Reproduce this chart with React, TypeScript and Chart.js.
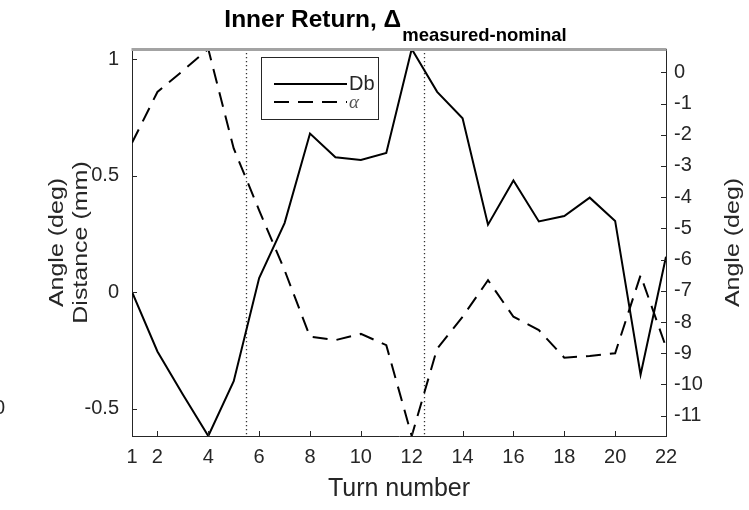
import React, { useEffect, useRef } from 'react';
import { Chart, registerables } from 'chart.js';

Chart.register(...registerables);

// ---- data ----
const turns = [1, 2, 3, 4, 5, 6, 7, 8, 9, 10, 11, 12, 13, 14, 15, 16, 17, 18, 19, 20, 21, 22];
const dbValues = [0, -0.255, -0.44, -0.618, -0.383, 0.06, 0.296, 0.68, 0.578, 0.567, 0.597, 1.043, 0.859, 0.746, 0.289, 0.479, 0.303, 0.326, 0.405, 0.305, -0.355, 0.151];
const alphaValues = [-2.26, -0.63, 0.05, 0.746, -2.44, -4.42, -6.34, -8.47, -8.58, -8.38, -8.74, -11.65, -8.85, -7.83, -6.66, -7.83, -8.26, -9.14, -9.09, -9.0, -6.5, -8.8];
const xTicks = [1, 2, 4, 6, 8, 10, 12, 14, 16, 18, 20, 22];
const leftTicks = [-0.5, 0, 0.5, 1];
const rightTicks = [-11, -10, -9, -8, -7, -6, -5, -4, -3, -2, -1, 0];
const dividers = [5.5, 12.5];
const seriesLabels = ['Db', 'α'];
const titleMain = 'Inner Return, Δ';
const titleSub = 'measured-nominal';
const xTitle = 'Turn number';
const leftTitles = ['Angle (deg)', 'Distance (mm)'];
const rightTitle = 'Angle (deg)';
const strayLabel = '0';

const FONT = '"Liberation Sans", Arial, Helvetica, sans-serif';
const AXIS = '#262626';

function drawRotated(ctx: any, text: string, x: number, y: number) {
  ctx.save();
  ctx.translate(x, y);
  ctx.rotate(-Math.PI / 2);
  ctx.scale(1.19, 1);
  ctx.fillStyle = AXIS;
  ctx.font = `21px ${FONT}`;
  ctx.textAlign = 'center';
  ctx.textBaseline = 'middle';
  ctx.fillText(text, 0, 0);
  ctx.restore();
}

const overlay = {
  id: 'overlay',
  beforeDatasetsDraw(chart: any) {
    const { ctx, chartArea, scales } = chart;
    ctx.save();
    ctx.strokeStyle = '#333';
    ctx.lineWidth = 1.3;
    ctx.setLineDash([1.3, 2.7]);
    for (const d of dividers) {
      const px = Math.round(scales.x.getPixelForValue(d)) + 0.5;
      ctx.beginPath();
      ctx.moveTo(px, chartArea.top);
      ctx.lineTo(px, chartArea.bottom);
      ctx.stroke();
    }
    ctx.restore();
  },
  afterDraw(chart: any) {
    const { ctx, chartArea, scales } = chart;
    const { left, right, top, bottom } = chartArea;
    ctx.save();
    // top box line (gray)
    ctx.strokeStyle = '#a3a3a3';
    ctx.lineWidth = 3;
    ctx.beginPath();
    ctx.moveTo(left - 0.5, top + 0.5);
    ctx.lineTo(right + 0.5, top + 0.5);
    ctx.stroke();

    // inward tick marks
    ctx.strokeStyle = AXIS;
    ctx.lineWidth = 1;
    const tl = 5;
    for (const v of leftTicks) {
      const y = Math.round(scales.y.getPixelForValue(v)) + 0.5;
      ctx.beginPath(); ctx.moveTo(left, y); ctx.lineTo(left + tl, y); ctx.stroke();
    }
    for (const v of rightTicks) {
      const y = Math.round(scales.y2.getPixelForValue(v)) + 0.5;
      ctx.beginPath(); ctx.moveTo(right, y); ctx.lineTo(right - tl, y); ctx.stroke();
    }
    for (const v of xTicks) {
      const x = Math.round(scales.x.getPixelForValue(v)) + 0.5;
      ctx.beginPath(); ctx.moveTo(x, bottom); ctx.lineTo(x, bottom - tl); ctx.stroke();
    }

    // legend
    const lx = 261, ly = 57, lw = 117, lh = 62;
    ctx.fillStyle = '#fff';
    ctx.fillRect(lx, ly, lw, lh);
    ctx.strokeStyle = AXIS;
    ctx.lineWidth = 1;
    ctx.strokeRect(lx + 0.5, ly + 0.5, lw, lh);
    chart.data.datasets.forEach((ds: any, i: number) => {
      const y = 84 + i * 18;
      ctx.strokeStyle = ds.borderColor;
      ctx.lineWidth = ds.borderWidth;
      ctx.setLineDash(ds.borderDash || []);
      ctx.beginPath(); ctx.moveTo(274, y); ctx.lineTo(347, y); ctx.stroke();
      ctx.setLineDash([]);
      ctx.textAlign = 'left';
      ctx.textBaseline = 'middle';
      if (i === 0) {
        ctx.fillStyle = AXIS;
        ctx.font = `20px ${FONT}`;
      } else {
        ctx.fillStyle = '#555';
        ctx.font = `italic 19px "Liberation Serif", "DejaVu Serif", serif`;
      }
      ctx.fillText(ds.label, 349, y + (i === 0 ? 0 : 1));
    });

    // title
    ctx.fillStyle = '#000';
    ctx.textBaseline = 'alphabetic';
    ctx.textAlign = 'left';
    ctx.font = `bold 24.5px ${FONT}`;
    const w1 = ctx.measureText(titleMain).width;
    ctx.font = `bold 18.5px ${FONT}`;
    const w2 = ctx.measureText(titleSub).width;
    const cx = (left + right) / 2 - 4;
    const sx = cx - (w1 + w2) / 2;
    ctx.font = `bold 24.5px ${FONT}`;
    ctx.fillText(titleMain, sx, 27);
    ctx.font = `bold 18.5px ${FONT}`;
    ctx.fillText(titleSub, sx + w1 + 1, 41);

    // axis titles (rotated, reading bottom to top)
    const cy = (top + bottom) / 2;
    drawRotated(ctx, leftTitles[0], 57, cy);
    drawRotated(ctx, leftTitles[1], 81, cy);
    drawRotated(ctx, rightTitle, 733, cy);

    // stray clipped label at far left
    ctx.fillStyle = AXIS;
    ctx.font = `20px ${FONT}`;
    ctx.textAlign = 'left';
    ctx.textBaseline = 'middle';
    ctx.fillText(strayLabel, -6, 408);
    ctx.restore();
  },
};

export default function App() {
  const ref = useRef<HTMLCanvasElement>(null);
  useEffect(() => {
    const chart = new Chart(ref.current as HTMLCanvasElement, {
      type: 'line',
      data: {
        datasets: [
          {
            label: seriesLabels[0],
            data: turns.map((t, i) => ({ x: t, y: dbValues[i] })),
            yAxisID: 'y',
            borderColor: '#000',
            borderWidth: 2,
            borderDash: [],
            pointRadius: 0,
            tension: 0,
          },
          {
            label: seriesLabels[1],
            data: turns.map((t, i) => ({ x: t, y: alphaValues[i] })),
            yAxisID: 'y2',
            borderColor: '#000',
            borderWidth: 2,
            borderDash: [15, 9],
            pointRadius: 0,
            tension: 0,
          },
        ],
      },
      options: {
        animation: false,
        responsive: true,
        maintainAspectRatio: false,
        layout: { padding: { top: 49, left: 0, right: 0, bottom: 0 } },
        plugins: { legend: { display: false }, title: { display: false }, tooltip: { enabled: false } },
        scales: {
          x: {
            type: 'linear',
            min: 1,
            max: 22,
            afterBuildTicks: (s: any) => { s.ticks = xTicks.map((v) => ({ value: v })); },
            afterFit: (s: any) => { s.height = 74; },
            grid: { display: false, drawTicks: false },
            border: { display: true, color: AXIS, width: 1 },
            ticks: { color: AXIS, font: { family: FONT, size: 20 }, padding: 9, maxRotation: 0, autoSkip: false, callback: (v: any) => String(v) },
            title: { display: true, text: xTitle, color: AXIS, font: { family: FONT, size: 25, lineHeight: '30px' }, padding: { top: 0, bottom: 6 } },
          },
          y: {
            type: 'linear',
            position: 'left',
            min: -0.618,
            max: 1.043,
            afterBuildTicks: (s: any) => { s.ticks = leftTicks.map((v) => ({ value: v })); },
            afterFit: (s: any) => { s.width = 132; },
            grid: { display: false, drawTicks: false },
            border: { display: true, color: AXIS, width: 1 },
            ticks: { color: AXIS, font: { family: FONT, size: 20 }, padding: 13, callback: (v: any) => String(v) },
          },
          y2: {
            type: 'linear',
            position: 'right',
            min: -11.65,
            max: 0.746,
            afterBuildTicks: (s: any) => { s.ticks = rightTicks.map((v) => ({ value: v })); },
            afterFit: (s: any) => { s.width = 83; },
            grid: { display: false, drawTicks: false },
            border: { display: true, color: AXIS, width: 1 },
            ticks: { color: AXIS, font: { family: FONT, size: 20 }, padding: 8, callback: (v: any) => String(v) },
          },
        },
      },
      plugins: [overlay],
    } as any);
    return () => chart.destroy();
  }, []);
  return (
    <div style={{ position: 'absolute', left: 0, top: 0, width: 749, height: 510, background: '#fff' }}>
      <canvas ref={ref} />
    </div>
  );
}
